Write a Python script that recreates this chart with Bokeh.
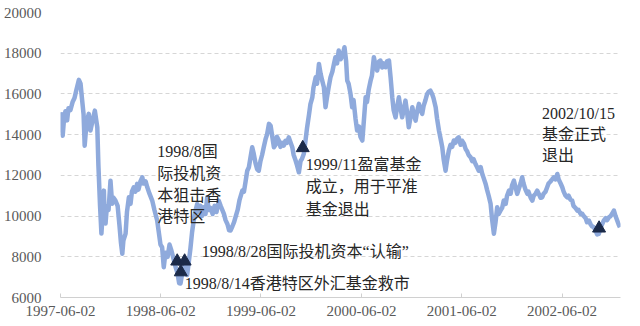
from datetime import datetime, timedelta
from bokeh.plotting import figure
from bokeh.models import Range1d, FixedTicker, DatetimeTickFormatter, ColumnDataSource
from bokeh.core.properties import value
from bokeh.embed import file_html
from bokeh.resources import INLINE

# ---- data ----
start_date = "1997-06-02"
# observation dates, as days after start_date
days = [
    0, 4, 8, 13, 18, 24, 29, 36, 44, 51,
    58, 67, 73, 78, 84, 88, 95, 103, 109, 117,
    125, 134, 138, 144, 149, 153, 158, 160, 164, 169,
    175, 182, 188, 193, 200, 208, 215, 220, 225, 229,
    237, 242, 249, 255, 260, 267, 273, 279, 284, 291,
    298, 302, 310, 316, 324, 334, 342, 352, 357, 364,
    370, 376, 382, 390, 397, 404, 413, 419, 426, 432,
    437, 442, 448, 455, 461, 467, 473, 479, 485, 492,
    498, 503, 510, 515, 522, 528, 534, 539, 546, 554,
    561, 568, 576, 583, 589, 595, 601, 608, 614, 619,
    626, 632, 637, 645, 652, 662, 668, 674, 680, 686,
    692, 698, 703, 710, 716, 722, 728, 734, 740, 747,
    752, 759, 765, 770, 777, 783, 788, 795, 801, 807,
    813, 819, 825, 831, 838, 844, 849, 856, 861, 868,
    874, 879, 886, 892, 898, 905, 910, 917, 921, 929,
    934, 941, 947, 952, 959, 965, 970, 976, 983, 990,
    996, 1001, 1007, 1013, 1020, 1027, 1034, 1040, 1044, 1049,
    1056, 1062, 1067, 1074, 1080, 1087, 1092, 1099, 1103, 1111,
    1116, 1122, 1129, 1134, 1141, 1147, 1153, 1160, 1165, 1171,
    1176, 1184, 1189, 1196, 1202, 1208, 1213, 1220, 1225, 1232,
    1238, 1244, 1251, 1256, 1262, 1268, 1275, 1281, 1286, 1293,
    1298, 1305, 1311, 1317, 1322, 1329, 1335, 1340, 1347, 1353,
    1358, 1366, 1371, 1378, 1384, 1390, 1395, 1402, 1407, 1414,
    1420, 1426, 1432, 1438, 1444, 1450, 1457, 1462, 1469, 1475,
    1480, 1486, 1493, 1499, 1504, 1511, 1517, 1523, 1530, 1535,
    1540, 1548, 1553, 1559, 1566, 1571, 1578, 1584, 1590, 1595,
    1602, 1608, 1614, 1621, 1626, 1633, 1639, 1644, 1651, 1657,
    1663, 1668, 1675, 1681, 1686, 1693, 1700, 1704, 1712, 1718,
    1723, 1730, 1736, 1741, 1748, 1754, 1759, 1766, 1772, 1777,
    1784, 1790, 1796, 1803, 1809, 1814, 1821, 1827, 1832, 1839,
    1845, 1850, 1857, 1863, 1868, 1875, 1882, 1886, 1894, 1900,
    1905, 1912, 1917, 1924, 1930, 1935, 1942, 1948, 1954, 1960,
    1966, 1972, 1978, 1985, 1990, 1997, 2003, 2008, 2015, 2021,
    2027, 2032, 2037,
]
hsi = [
    15100, 14500, 13950, 14800, 15150, 14700, 15300, 15200, 15600, 15800,
    16200, 16690, 16500, 15800, 15000, 13460, 14600, 15020, 14200, 14700,
    15180, 14360, 12500, 10500, 9140, 10000, 11250, 10200, 9630, 10500,
    10300, 11740, 10600, 10900, 10760, 10500, 9500, 8700, 8150, 8800,
    9140, 10200, 10925, 10600, 11200, 11415, 11200, 11580, 11300, 11700,
    11905, 11600, 11700, 11415, 11100, 10760, 10300, 9780, 9300, 8600,
    8470, 7490, 8200, 8000, 8600, 8300, 7820, 7500, 7200, 6700,
    6690, 7100, 7300, 7800, 7100, 7730, 8400, 9200, 9780, 10300,
    10600, 10200, 10500, 10000, 10430, 10100, 10925, 10300, 10400, 10100,
    10500, 10200, 10760, 10500, 10300, 10110, 9800, 9600, 9300, 9290,
    9500, 9700, 9940, 10300, 10800, 11250, 11200, 11700, 12230, 12400,
    12900, 13380, 13100, 12600, 12300, 12230, 12700, 13000, 13380, 13800,
    14000, 14530, 14440, 14000, 13380, 13500, 13900, 13710, 13400, 13600,
    13460, 13700, 13600, 13870, 13600, 13380, 13000, 12730, 12500, 12150,
    12700, 12800, 13060, 13700, 14360, 15000, 15500, 15835, 16300, 16815,
    16500, 17475, 17000, 16700, 16330, 15345, 15800, 16300, 16815, 17100,
    17500, 17800, 17500, 18130, 17700, 17900, 18290, 17600, 16650, 16500,
    16000, 15345, 15700, 14800, 14200, 14400, 13900, 13710, 14400, 15835,
    15600, 16200, 16650, 16900, 17800, 17400, 17150, 17600, 17640, 17300,
    17500, 17310, 17600, 17640, 16800, 15835, 15200, 14850, 15300, 15835,
    15300, 14850, 15300, 15670, 15100, 14360, 14900, 15345, 15000, 14690,
    15100, 15510, 15200, 15020, 15400, 15700, 16000, 16100, 16160, 16000,
    15800, 15345, 14800, 14200, 13800, 13380, 12800, 12230, 12700, 13220,
    13500, 13400, 13710, 13600, 13800, 13870, 13500, 13700, 13550, 13300,
    13200, 13000, 12890, 12700, 12800, 12560, 12400, 12230, 12400, 12100,
    11900, 11580, 11300, 11000, 10600, 9900, 9130, 9700, 10430, 10100,
    10270, 10400, 10760, 10600, 11000, 11250, 11100, 11500, 11740, 11400,
    11090, 11300, 11600, 11905, 11600, 11300, 11090, 11200, 10900, 10760,
    11000, 11100, 11250, 11100, 10900, 10925, 11100, 11200, 11415, 11600,
    11700, 11800, 11905, 11800, 12070, 11800, 11600, 11415, 11200, 11000,
    10925, 11000, 10800, 10760, 10500, 10400, 10270, 10300, 10100, 10110,
    10000, 9900, 9700, 9780, 9600, 9500, 9450, 9300, 9100, 9130,
    9400, 9600, 9780, 9900, 9800, 9940, 10000, 10100, 10270, 10000,
    9780, 9600, 9450,
]

x_ticks = ["1997-06-02", "1998-06-02", "1999-06-02", "2000-06-02", "2001-06-02", "2002-06-02"]
y_ticks = [6000, 8000, 10000, 12000, 14000, 16000, 18000, 20000]
x_end = "2003-01-01"

# events (triangles)
event_dates = ["1998-08-01", "1998-08-14", "1998-08-28", "1999-11-01", "2002-10-15"]
event_values = [7780, 7250, 7780, 13350, 9400]

# annotation lines: (event index, text)
ann_event = [0, 0, 0, 0, 2, 1, 3, 3, 3, 4, 4, 4]
ann_text = [
    "1998/8国", "际投机资", "本狙击香", "港特区",
    "1998/8/28国际投机资本“认输”",
    "1998/8/14香港特区外汇基金救市",
    "1999/11盈富基金", "成立，用于平准", "基金退出",
    "2002/10/15", "基金正式", "退出",
]
# pixel offsets of each annotation line from its event marker (style)
ann_dx = [-20, -20, -20, -20, 17, 4, 3, 3, 3, -57, -57, -57]
ann_dy = [-110, -88, -66, -45, -10, 11, 17, 39, 62, -115, -94, -73]

TEXT_FONT = "Liberation Serif, Noto Sans CJK SC"

# ---- build ----
t0 = datetime.strptime(start_date, "%Y-%m-%d")
dates = [t0 + timedelta(days=d) for d in days]
ev_dt = [datetime.strptime(d, "%Y-%m-%d") for d in event_dates]
epoch = datetime(1970, 1, 1)
tick_ms = [(datetime.strptime(t, "%Y-%m-%d") - epoch).total_seconds() * 1000 for t in x_ticks]

p = figure(width=640, height=326, x_axis_type="datetime",
           x_range=Range1d(t0, datetime.strptime(x_end, "%Y-%m-%d")),
           y_range=Range1d(6000, 20000),
           output_backend="svg", toolbar_location=None,
           min_border_left=60, min_border_right=20, min_border_top=12, min_border_bottom=29)
p.outline_line_color = None
p.background_fill_color = "white"
p.border_fill_color = "white"

p.xgrid.grid_line_color = None
p.ygrid.grid_line_color = "#d6d6d6"
p.ygrid.grid_line_dash = "4 3"
p.ygrid.grid_line_width = 1

p.yaxis.ticker = FixedTicker(ticks=y_ticks)
p.yaxis.axis_line_color = None
p.yaxis.major_tick_line_color = None
p.yaxis.minor_tick_line_color = None
p.yaxis.major_label_standoff = 13

p.xaxis.ticker = FixedTicker(ticks=tick_ms)
p.xaxis.formatter = DatetimeTickFormatter(
    milliseconds="%Y-%m-%d", seconds="%Y-%m-%d", minsec="%Y-%m-%d", minutes="%Y-%m-%d",
    hourmin="%Y-%m-%d", hours="%Y-%m-%d", days="%Y-%m-%d", months="%Y-%m-%d", years="%Y-%m-%d")
p.xaxis.axis_line_color = "#d0d0d0"
p.xaxis.major_tick_line_color = "#d0d0d0"
p.xaxis.major_tick_in = 4
p.xaxis.major_tick_out = 0
p.xaxis.minor_tick_line_color = None
p.xaxis.major_label_standoff = 8

for ax in (p.xaxis, p.yaxis):
    ax.major_label_text_font = "Liberation Serif"
    ax.major_label_text_font_size = "15px"
    ax.major_label_text_color = "#595959"

p.line(dates, hsi, line_color="#8FAADC", line_width=4.5, line_join="round")

p.scatter(ev_dt, event_values, marker="triangle", size=13,
          fill_color="#1B2A49", line_color="#1B2A49")

src = ColumnDataSource(dict(
    x=[ev_dt[i] for i in ann_event],
    y=[event_values[i] for i in ann_event],
    text=ann_text, dx=ann_dx, dy=ann_dy))
p.text(x="x", y="y", text="text", x_offset="dx", y_offset="dy", source=src,
       text_font=value(TEXT_FONT), text_font_size="16px",
       text_color="#262626", text_baseline="middle", text_align="left")

open("out.html", "w").write(file_html(p, INLINE))
